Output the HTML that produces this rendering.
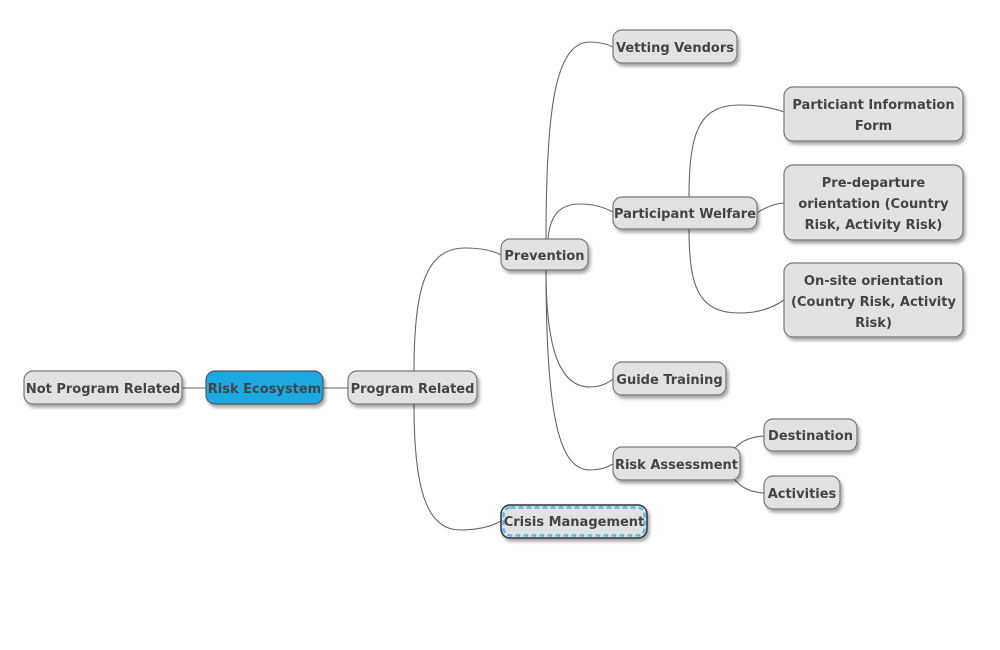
<!DOCTYPE html>
<html><head><meta charset="utf-8"><style>
html,body{margin:0;padding:0;background:#fff;}
svg{display:block;}
text{font-family:"DejaVu Sans","Liberation Sans",sans-serif;font-weight:bold;font-size:13px;fill:#444;text-anchor:middle;}
</style></head><body>
<svg width="1000" height="650" viewBox="0 0 1000 650" xmlns="http://www.w3.org/2000/svg">
<defs>
<filter id="sh" x="-10%" y="-20%" width="130%" height="160%">
<feDropShadow dx="2" dy="3" stdDeviation="1.5" flood-color="#000" flood-opacity="0.35"/>
</filter>
</defs>
<g fill="none" stroke="#666" stroke-width="1.1">
<line x1="182" y1="388" x2="206" y2="388"/>
<line x1="323" y1="388" x2="348" y2="388"/>
<path d="M414,371 C414,290 425,248 465,248 Q488,248 501,255"/>
<path d="M414,404 C414,485 425,530 460,530 Q485,530 501,521"/>
<path d="M546,239 C546,110 555,42 590,42 Q603,42 613,47"/>
<path d="M548,239 C550,215 560,204 580,204 Q598,204 613,212"/>
<path d="M546,270 C546,350 560,387 590,387 Q603,387 613,379"/>
<path d="M546,270 C546,420 560,470 590,470 Q603,470 613,464"/>
<path d="M689,197 C689,130 700,105 740,105 Q765,105 784,112"/>
<path d="M757,213 Q770,204 784,203"/>
<path d="M689,229 C689,290 700,313 740,313 Q765,313 784,300"/>
<path d="M735,448 Q745,437 764,436"/>
<path d="M735,480 Q745,492 764,493"/>
</g>
<g stroke="#777" stroke-width="1.2" fill="#e2e2e2" filter="url(#sh)">
<rect x="24" y="371" width="158" height="33" rx="9"/>
<rect x="206" y="371" width="117" height="33" rx="9" fill="#1ea8e0" stroke="#555"/>
<rect x="348" y="371" width="129" height="33" rx="9"/>
<rect x="501" y="239" width="87" height="31" rx="9"/>
<rect x="501" y="505" width="146" height="33" rx="9" stroke="#333" stroke-width="1.5"/>
<rect x="613" y="30" width="124" height="33" rx="9"/>
<rect x="613" y="197" width="144" height="32" rx="9"/>
<rect x="784" y="87" width="179" height="54" rx="9"/>
<rect x="784" y="165" width="179" height="75" rx="9"/>
<rect x="784" y="263" width="179" height="74" rx="9"/>
<rect x="613" y="362" width="113" height="33" rx="9"/>
<rect x="613" y="447" width="127" height="33" rx="9"/>
<rect x="764" y="419" width="93" height="32" rx="9"/>
<rect x="764" y="476" width="76" height="33" rx="9"/>
</g>
<rect x="503.5" y="507.5" width="141" height="28" rx="7" fill="none" stroke="#5bb9e8" stroke-width="2.5" stroke-dasharray="5,3"/>
<text x="103" y="393">Not Program Related</text>
<text x="264.5" y="393">Risk Ecosystem</text>
<text x="412.5" y="393">Program Related</text>
<text x="544.5" y="260">Prevention</text>
<text x="574" y="526">Crisis Management</text>
<text x="675" y="52">Vetting Vendors</text>
<text x="685" y="218">Participant Welfare</text>
<text x="873.5" y="109">Particiant Information</text>
<text x="873.5" y="130">Form</text>
<text x="873.5" y="187">Pre-departure</text>
<text x="873.5" y="208">orientation (Country</text>
<text x="873.5" y="229">Risk, Activity Risk)</text>
<text x="873.5" y="285">On-site orientation</text>
<text x="873.5" y="306">(Country Risk, Activity</text>
<text x="873.5" y="327">Risk)</text>
<text x="669.5" y="384">Guide Training</text>
<text x="676.5" y="469">Risk Assessment</text>
<text x="810.5" y="440">Destination</text>
<text x="802" y="498">Activities</text>
</svg>
</body></html>
